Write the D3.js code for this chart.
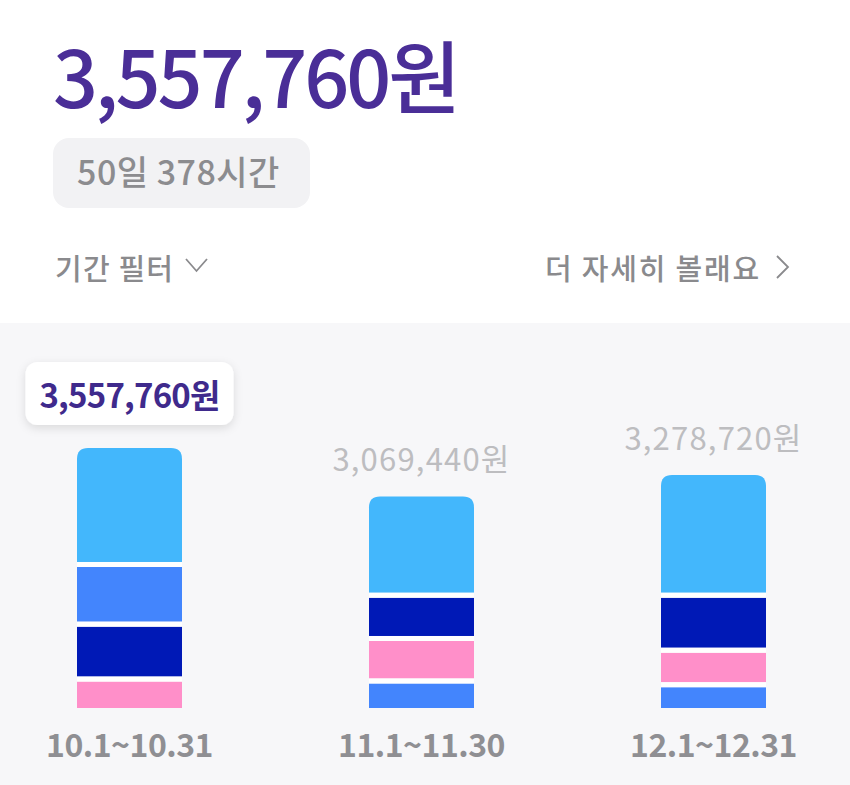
<!DOCTYPE html>
<html>
<head>
<meta charset="utf-8">
<script src="https://cdn.jsdelivr.net/npm/d3@7"></script>
<style>
  body { margin: 0; background: #fff; }
  svg { display: block; font-family: "Noto Sans CJK KR", "Noto Sans", sans-serif; }
</style>
</head>
<body>
<div id="pay-graph"></div>
<script>
// data
var periods = ["10.1~10.31", "11.1~11.30", "12.1~12.31"];
var totals = [3557760, 3069440, 3278720];
var series = ["work1", "work2", "work3", "work4"];
// hours per workplace, per period
var work1 = [62.5, 53, 64.5];
var work2 = [32, 14.5, 12.5];
var work3 = [29.5, 23.2, 29.5];
var work4 = [15.5, 22.8, 18.5];
var seriesColors = ["#43b7fc", "#4385fd", "#0019b6", "#ff8fc9"];
var selected = 0;

var payviz = function(options){

	var self = {};

	for (var key in options) {
		self[key] = options[key];
	}

	self.parentSelect = "#" + self.parentId;

	self.init = function(){
		self.svg = d3.select(self.parentSelect).append("svg")
			.attr("width", self.width)
			.attr("height", self.height);

		var defs = self.svg.append("defs");
		var f = defs.append("filter").attr("id", "shadow")
			.attr("x", "-20%").attr("y", "-30%").attr("width", "140%").attr("height", "170%");
		f.append("feDropShadow").attr("dx", 0).attr("dy", 3).attr("stdDeviation", 5)
			.attr("flood-color", "#000").attr("flood-opacity", 0.12);
	};

	self.header = function(){
		var svg = self.svg;
		svg.append("text")
			.attr("x", 53).attr("y", 108)
			.attr("fill", "#4a2e97")
			.attr("font-size", 79).attr("font-weight", 500)
			.attr("letter-spacing", -3)
			.text(d3.format(",")(totals[selected]) + "원");

		svg.append("rect")
			.attr("x", 53).attr("y", 138).attr("width", 257).attr("height", 70)
			.attr("rx", 16).attr("fill", "#f2f2f4");
		svg.append("text")
			.attr("x", 77).attr("y", 185)
			.attr("fill", "#8c8c8f")
			.attr("font-size", 34).attr("font-weight", 500)
			.attr("letter-spacing", 0.5)
			.text("50일 378시간");

		svg.append("text")
			.attr("x", 55).attr("y", 280)
			.attr("fill", "#8a8a8d").attr("font-size", 29).attr("font-weight", 500)
			.attr("letter-spacing", 1.2)
			.text("기간 필터");
		svg.append("path")
			.attr("d", "M186,259 L196.5,271 L207,259")
			.attr("fill", "none").attr("stroke", "#8a8a8d").attr("stroke-width", 1.8);

		svg.append("text")
			.attr("x", 761).attr("y", 280)
			.attr("text-anchor", "end")
			.attr("fill", "#8a8a8d").attr("font-size", 29).attr("font-weight", 500)
			.attr("letter-spacing", 1.8)
			.text("더 자세히 볼래요");
		svg.append("path")
			.attr("d", "M777,256 L788,267 L777,278")
			.attr("fill", "none").attr("stroke", "#8a8a8d").attr("stroke-width", 1.8);

		svg.append("rect")
			.attr("x", 0).attr("y", 323).attr("width", self.width).attr("height", self.height - 323)
			.attr("fill", "#f7f7f9");
	};

	self.prerender = function(){
		var svg = self.svg;
		var barW = 105, gap = 5, r = 11;

		var x = d3.scalePoint().domain(periods).range([129.5, 713.5]);

		var rows = periods.map(function(p, i){
			var segs = [
				{ key: series[0], value: work1[i] },
				{ key: series[1], value: work2[i] },
				{ key: series[2], value: work3[i] },
				{ key: series[3], value: work4[i] }
			];
			// smallest at the bottom
			segs.sort(function(a, b){ return a.value - b.value; });
			var acc = 0;
			segs.forEach(function(s){ s.y0 = acc; acc += s.value; s.y1 = acc; });
			return { period: p, total: totals[i], hours: acc, segs: segs, index: i };
		});

		var y = d3.scaleLinear()
			.domain([0, d3.max(rows, function(d){ return d.hours; })])
			.range([708, 448]);

		var color = d3.scaleOrdinal().domain(series).range(seriesColors);

		var bar = svg.selectAll(".bar")
			.data(rows)
			.enter().append("g")
			.attr("class", "bar")
			.attr("transform", function(d){ return "translate(" + (x(d.period) - barW / 2) + ",0)"; });

		bar.selectAll("path")
			.data(function(d){ return d.segs.map(function(s, j){ s.last = j === d.segs.length - 1; s.first = j === 0; return s; }); })
			.enter().append("path")
			.attr("fill", function(s){ return color(s.key); })
			.attr("d", function(s){
				var top = y(s.y1) + (s.last ? 0 : gap / 2);
				var bottom = y(s.y0) - (s.first ? 0 : gap / 2);
				if (s.last) {
					return "M0," + bottom + " L0," + (top + r) +
						" Q0," + top + " " + r + "," + top +
						" L" + (barW - r) + "," + top +
						" Q" + barW + "," + top + " " + barW + "," + (top + r) +
						" L" + barW + "," + bottom + " Z";
				}
				return "M0," + bottom + " L0," + top + " L" + barW + "," + top + " L" + barW + "," + bottom + " Z";
			});

		// white separators
		bar.selectAll(".sep")
			.data(function(d){ return d.segs.slice(0, -1); })
			.enter().append("rect")
			.attr("class", "sep")
			.attr("x", 0).attr("width", barW)
			.attr("y", function(s){ return y(s.y1) - gap / 2; })
			.attr("height", gap)
			.attr("fill", "#ffffff");

		// period labels
		svg.selectAll(".period")
			.data(rows)
			.enter().append("text")
			.attr("class", "period")
			.attr("x", function(d){ return x(d.period); })
			.attr("y", 757)
			.attr("text-anchor", "middle")
			.attr("fill", "#8f8f93")
			.attr("font-size", 32).attr("font-weight", 700)
			.attr("letter-spacing", -0.5)
			.text(function(d){ return d.period; });

		// totals above bars
		svg.selectAll(".total")
			.data(rows.filter(function(d){ return d.index !== selected; }))
			.enter().append("text")
			.attr("class", "total")
			.attr("x", function(d){ return x(d.period); })
			.attr("y", function(d){ return y(d.hours) - 25; })
			.attr("text-anchor", "middle")
			.attr("fill", "#bdbdc0")
			.attr("font-size", 31)
			.attr("letter-spacing", 1.2)
			.text(function(d){ return d3.format(",")(d.total) + "원"; });

		// tooltip on selected bar
		var sel = rows[selected];
		var tip = svg.append("g")
			.attr("transform", "translate(" + x(sel.period) + "," + (y(sel.hours) - 23) + ")");
		tip.append("rect")
			.attr("x", -104).attr("y", -63).attr("width", 208).attr("height", 63)
			.attr("rx", 12).attr("fill", "#fff")
			.attr("filter", "url(#shadow)");
		tip.append("text")
			.attr("x", 0).attr("y", -17)
			.attr("text-anchor", "middle")
			.attr("fill", "#3f2a8c")
			.attr("font-size", 33).attr("font-weight", 700)
			.attr("letter-spacing", -0.8)
			.text(d3.format(",")(sel.total) + "원");
	};

	self.init();
	return self;
};

var graph = payviz({
	parentId: "pay-graph",
	width: 850,
	height: 785
});

graph.header();
graph.prerender();
</script>
</body>
</html>
